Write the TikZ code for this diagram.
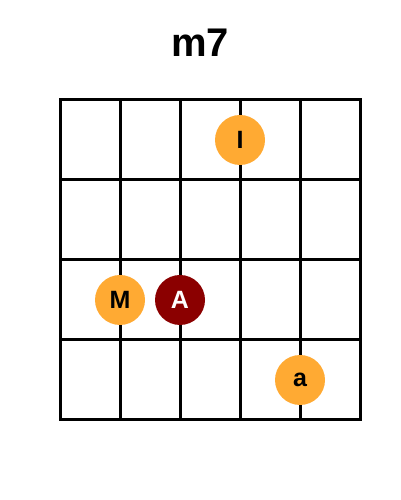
\documentclass[tikz,border=0pt]{standalone}
\usepackage{fontspec}
\setmainfont{Liberation Sans}
\definecolor{camngon}{RGB}{255,170,51}
\definecolor{dogoc}{RGB}{139,0,0}
\begin{document}
\begin{tikzpicture}[x=1pt,y=1pt,line join=round,line cap=rect,
	luoi/.style={line width=3pt},
	ngon/.style={circle,fill=camngon,minimum size=50pt,inner sep=0pt,font=\fontsize{25}{25}\selectfont\bfseries},
	goc/.style={ngon,fill=dogoc,text=white}]
	\useasboundingbox (0,0) rectangle (400,500);
	% === Tên hợp âm ===
	\node[font=\fontsize{40}{40}\selectfont\bfseries,anchor=base] (ten) at (200,443) {m7};
	% === Lưới phím ===
	\foreach \i in {0,...,5}
		\draw[luoi] (60+60*\i,80)--(60+60*\i,400);
	\foreach \j in {0,...,4}
		\draw[luoi] (60,80+80*\j)--(360,80+80*\j);
	% === Ngón tay ===
	\node[ngon] (I) at (240,360) {I};
	\node[ngon] (M) at (120,200) {M};
	\node[goc] (A) at (180,200) {A};
	\node[ngon] (a) at (300,120) {a};
\end{tikzpicture}
\end{document}
